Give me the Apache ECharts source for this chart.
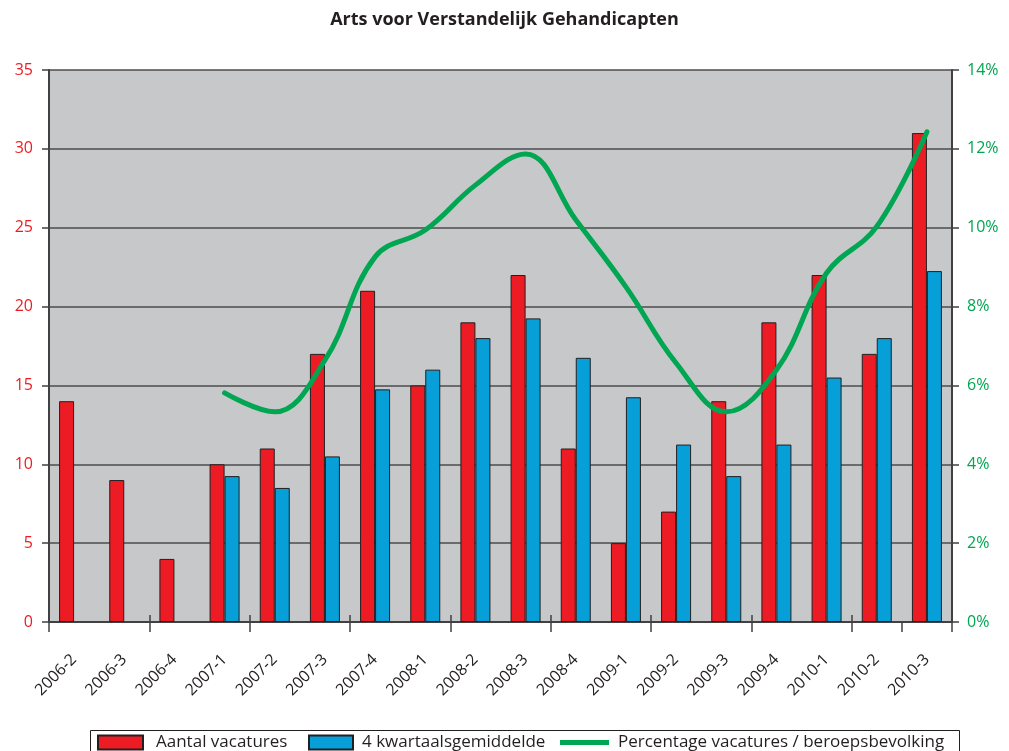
<!DOCTYPE html>
<html>
<head>
<meta charset="utf-8">
<script src="https://cdn.jsdelivr.net/npm/echarts@6/dist/echarts.min.js"></script>
<style>html,body{margin:0;padding:0;background:#fff;}#c{width:1009px;height:751px;}</style>
</head>
<body>
<div id="c"></div>
<script>
const categories = ['2006-2','2006-3','2006-4','2007-1','2007-2','2007-3','2007-4','2008-1','2008-2','2008-3','2008-4','2009-1','2009-2','2009-3','2009-4','2010-1','2010-2','2010-3'];
const aantalVacatures = [14, 9, 4, 10, 11, 17, 21, 15, 19, 22, 11, 5, 7, 14, 19, 22, 17, 31];
const kwartaalGemiddelde = [null, null, null, 9.25, 8.5, 10.5, 14.75, 16, 18, 19.25, 16.75, 14.25, 11.25, 9.25, 11.25, 15.5, 18, 22.25];
const percentage = [null, null, null, 5.81, 5.33, 6.64, 9.26, 9.94, 11.08, 11.87, 10.2, 8.5, 6.57, 5.33, 6.39, 8.85, 10.03, 12.43];
const leftTicks = [0, 5, 10, 15, 20, 25, 30, 35];
const rightTicks = [0, 2, 4, 6, 8, 10, 12, 14];

const FONT = '"Open Sans", Lato, sans-serif';
const legendText = {fontFamily: FONT, fontSize: 17, color: '#231f20'};
const chart = echarts.init(document.getElementById('c'), null, {renderer: 'canvas'});
chart.setOption({
  animation: false,
  backgroundColor: '#ffffff',
  title: {
    text: 'Arts voor Verstandelijk Gehandicapten',
    left: 'center', top: 6,
    textStyle: {fontFamily: FONT, fontSize: 18, fontWeight: 'bold', color: '#231f20'}
  },
  graphic: [{
    type: 'rect', left: 88, top: 728, silent: true,
    shape: {width: 869, height: 40},
    style: {fill: 'none', stroke: '#231f20', lineWidth: 1}
  }],
  legend: [{
    left: 97, top: 734, padding: 0,
    itemWidth: 45, itemHeight: 14,
    textStyle: Object.assign({padding: [0, 0, 0, 8]}, legendText),
    data: [{name: 'Aantal vacatures', icon: 'rect'}]
  }, {
    left: 308, top: 734, padding: 0,
    itemWidth: 44, itemHeight: 14,
    textStyle: Object.assign({padding: [0, 0, 0, 4]}, legendText),
    data: [{name: '4 kwartaalsgemiddelde', icon: 'rect'}]
  }, {
    left: 560, top: 734, padding: 0,
    itemWidth: 49, itemHeight: 14,
    textStyle: Object.assign({padding: [0, 0, 0, 4]}, legendText),
    data: [{name: 'Percentage vacatures / beroepsbevolking', icon: 'path://M0,0 L49,0 L49,5 L0,5 Z', itemStyle: {color: '#00a651'}}]
  }],
  grid: {left: 49, right: 57, top: 70, bottom: 129, show: true, backgroundColor: '#c7c8ca', borderWidth: 0},
  xAxis: [{
    type: 'category',
    data: categories,
    boundaryGap: true,
    axisLine: {show: true, lineStyle: {color: '#414042', width: 2}},
    axisTick: {show: true, interval: 1, length: 10, lineStyle: {color: '#414042', width: 1.5}},
    axisLabel: {interval: 0, rotate: 45, margin: 35, fontFamily: FONT, fontSize: 16, color: '#231f20'},
    splitLine: {show: false}
  }, {
    type: 'category',
    data: categories,
    position: 'bottom',
    boundaryGap: true,
    axisLine: {show: false},
    axisTick: {show: true, inside: true, interval: 1, length: 7, lineStyle: {color: '#414042', width: 1.5}},
    axisLabel: {show: false},
    splitLine: {show: false}
  }],
  yAxis: [{
    type: 'value',
    min: leftTicks[0], max: leftTicks[leftTicks.length - 1], interval: 5,
    position: 'left',
    axisLine: {show: true, lineStyle: {color: '#414042', width: 2}},
    axisTick: {show: true, length: 7, lineStyle: {color: '#414042', width: 1.5}},
    axisLabel: {margin: 16, fontFamily: FONT, fontSize: 16, color: '#ed1c24'},
    splitLine: {show: true, lineStyle: {color: '#4d4d4f', width: 1.5}}
  }, {
    type: 'value',
    min: rightTicks[0], max: rightTicks[rightTicks.length - 1], interval: 2,
    position: 'right',
    axisLine: {show: true, lineStyle: {color: '#414042', width: 2}},
    axisTick: {show: true, length: 7, lineStyle: {color: '#414042', width: 1.5}},
    axisLabel: {margin: 15, fontFamily: FONT, fontSize: 16, color: '#00a651', formatter: '{value}%'},
    splitLine: {show: false}
  }],
  series: [{
    name: 'Aantal vacatures',
    type: 'bar',
    data: aantalVacatures,
    barWidth: 15,
    barGap: '0%',
    itemStyle: {color: '#ed1c24', borderColor: '#231f20', borderWidth: 1}
  }, {
    name: '4 kwartaalsgemiddelde',
    type: 'bar',
    data: kwartaalGemiddelde,
    barWidth: 15,
    barGap: '0%',
    itemStyle: {color: '#079fd8', borderColor: '#231f20', borderWidth: 1}
  }, {
    name: 'Percentage vacatures / beroepsbevolking',
    type: 'line',
    yAxisIndex: 1,
    data: percentage,
    smooth: 0.4,
    showSymbol: false,
    symbol: 'none',
    lineStyle: {color: '#00a651', width: 5, cap: 'round'},
    itemStyle: {color: '#00a651'}
  }]
});
</script>
</body>
</html>
